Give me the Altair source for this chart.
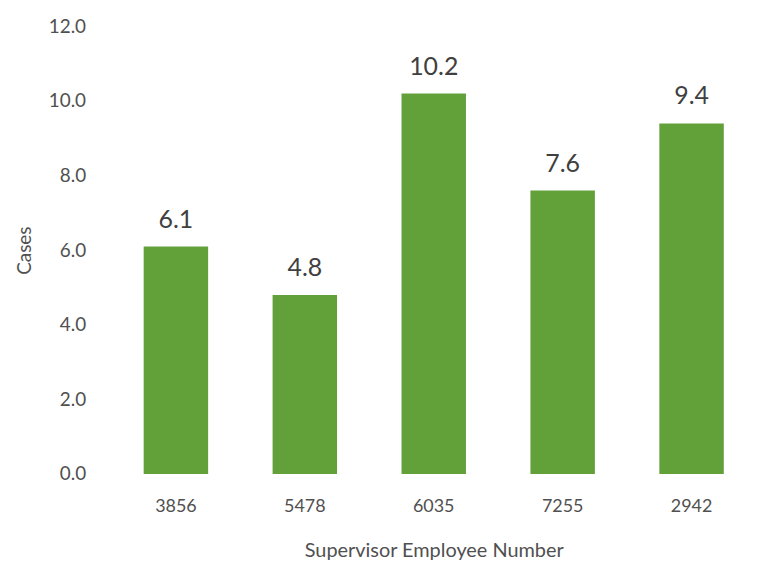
import altair as alt
import pandas as pd

supervisors = ["3856", "5478", "6035", "7255", "2942"]
cases = [6.1, 4.8, 10.2, 7.6, 9.4]

df = pd.DataFrame({"Supervisor": supervisors, "Cases": cases})

FONT = "Lato"
TXT = "#404040"
AX = "#505050"
GREEN = "#62a03a"

base = alt.Chart(df).encode(
    x=alt.X("Supervisor:N", sort=supervisors,
            scale=alt.Scale(paddingInner=0.5, paddingOuter=0.25),
            axis=alt.Axis(title="Supervisor Employee Number", labelAngle=0,
                          domain=False, ticks=False, labelPadding=24,
                          labelFontSize=18, labelColor=AX, labelFont=FONT,
                          titleFontSize=20, titleColor=AX, titleFont=FONT,
                          titleFontWeight="normal", titlePadding=25)),
    y=alt.Y("Cases:Q",
            scale=alt.Scale(domain=[0, 12]),
            axis=alt.Axis(title="Cases", values=[0, 2, 4, 6, 8, 10, 12],
                          format=".1f", domain=False, ticks=False, grid=False,
                          labelPadding=26, labelFontSize=19, labelColor=AX,
                          labelFont=FONT, titleFontSize=19, titleColor=AX,
                          titleFont=FONT, titleFontWeight="normal",
                          titlePadding=14)),
)

bars = base.mark_bar(color=GREEN)
labels = base.mark_text(baseline="alphabetic", dy=-19, fontSize=25, font=FONT,
                        color=TXT).encode(text=alt.Text("Cases:Q", format=".1f"))

chart = (bars + labels).properties(
    width=648, height=450,
    background="white",
    autosize=alt.AutoSizeParams(type="none"),
    padding={"left": 104, "top": 17, "right": 5, "bottom": 95},
).configure_view(stroke=None, strokeWidth=0)

chart.save("out.html", embed_options={"renderer": "svg", "actions": False})
